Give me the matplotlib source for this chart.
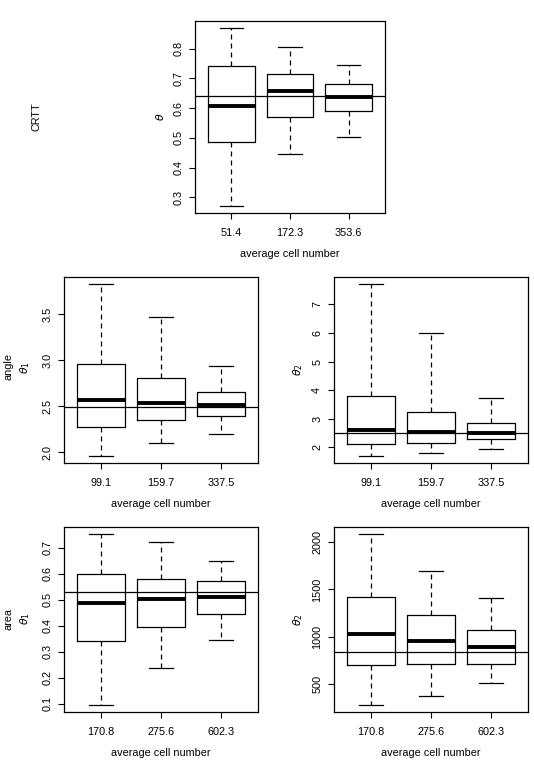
import matplotlib
matplotlib.use('Agg')
import matplotlib.pyplot as plt

plt.rcParams['font.family'] = ['Liberation Sans', 'DejaVu Sans']
plt.rcParams['font.size'] = 7.8

# CRTT
crtt_labels = ['51.4', '172.3', '353.6']
crtt_lo = [0.271, 0.445, 0.502]
crtt_q1 = [0.487, 0.571, 0.591]
crtt_med = [0.606, 0.656, 0.638]
crtt_q3 = [0.741, 0.715, 0.682]
crtt_hi = [0.869, 0.804, 0.746]
crtt_ref = 0.642

# angle, theta1
ang1_labels = ['99.1', '159.7', '337.5']
ang1_lo = [1.96, 2.098, 2.204]
ang1_q1 = [2.274, 2.35, 2.394]
ang1_med = [2.572, 2.539, 2.513]
ang1_q3 = [2.965, 2.812, 2.652]
ang1_hi = [3.831, 3.467, 2.943]
ang1_ref = 2.495

# angle, theta2
ang2_labels = ['99.1', '159.7', '337.5']
ang2_lo = [1.695, 1.81, 1.93]
ang2_q1 = [2.116, 2.17, 2.28]
ang2_med = [2.61, 2.53, 2.52]
ang2_q3 = [3.78, 3.25, 2.84]
ang2_hi = [7.713, 5.99, 3.73]
ang2_ref = 2.49

# area, theta1
are1_labels = ['170.8', '275.6', '602.3']
are1_lo = [0.095, 0.239, 0.344]
are1_q1 = [0.340, 0.397, 0.445]
are1_med = [0.487, 0.505, 0.511]
are1_q3 = [0.600, 0.581, 0.571]
are1_hi = [0.754, 0.723, 0.649]
are1_ref = 0.532

# area, theta2
are2_labels = ['170.8', '275.6', '602.3']
are2_lo = [278, 373, 507]
are2_q1 = [697, 718, 711]
are2_med = [1035, 961, 891]
are2_q3 = [1419, 1229, 1074]
are2_hi = [2088, 1697, 1412]
are2_ref = 838

W, H = 534, 765
fig = plt.figure(figsize=(W / 100, H / 100), dpi=100)


def box_panel(px, labels, lo, q1, med, q3, hi, ref, yticks, fmt, ylab=None):
    x0, y0, x1, y1 = px
    ax = fig.add_axes([x0 / W, 1 - y1 / H, (x1 - x0) / W, (y1 - y0) / H])
    stats = []
    for i in range(len(labels)):
        stats.append(dict(whislo=lo[i], q1=q1[i], med=med[i], q3=q3[i],
                          whishi=hi[i], fliers=[]))
    ax.bxp(stats, positions=[1, 2, 3], widths=0.8, capwidths=0.4,
           showfliers=False,
           boxprops=dict(color='black', linewidth=0.9),
           medianprops=dict(color='black', linewidth=2.8, solid_capstyle='butt'),
           whiskerprops=dict(color='black', linewidth=0.9, linestyle=(0, (4, 3.2))),
           capprops=dict(color='black', linewidth=0.9))
    ax.axhline(ref, color='black', linewidth=0.9)
    ymin, ymax = min(lo), max(hi)
    pad = 0.04 * (ymax - ymin)
    ax.set_ylim(ymin - pad, ymax + pad)
    ax.set_xlim(0.38, 3.62)
    ax.set_xticks([1, 2, 3])
    ax.set_xticklabels(labels)
    ax.set_yticks(yticks)
    ax.set_yticklabels([fmt % v for v in yticks], rotation=90, va='center')
    ax.tick_params(direction='out', length=4.5, width=0.8, color='black')
    ax.tick_params(axis='x', pad=6.5)
    ax.tick_params(axis='y', pad=4)
    for s in ax.spines.values():
        s.set_linewidth(0.9)
    ax.set_xlabel('average cell number', labelpad=7.5)
    if ylab is not None:
        ax.set_ylabel(ylab, labelpad=5)
    return ax


box_panel((195, 21, 385, 213), crtt_labels, crtt_lo, crtt_q1, crtt_med,
          crtt_q3, crtt_hi, crtt_ref, [0.3, 0.4, 0.5, 0.6, 0.7, 0.8], '%.1f',
          r'$\theta$')
box_panel((64, 277, 258, 463), ang1_labels, ang1_lo, ang1_q1, ang1_med,
          ang1_q3, ang1_hi, ang1_ref, [2.0, 2.5, 3.0, 3.5], '%.1f')
box_panel((334, 277, 528, 463), ang2_labels, ang2_lo, ang2_q1, ang2_med,
          ang2_q3, ang2_hi, ang2_ref, [2, 3, 4, 5, 6, 7], '%d',
          r'$\theta_2$')
box_panel((64, 527, 258, 712), are1_labels, are1_lo, are1_q1, are1_med,
          are1_q3, are1_hi, are1_ref, [0.1, 0.2, 0.3, 0.4, 0.5, 0.6, 0.7], '%.1f')
box_panel((334, 527, 528, 712), are2_labels, are2_lo, are2_q1, are2_med,
          are2_q3, are2_hi, are2_ref, [500, 1000, 1500, 2000], '%d',
          r'$\theta_2$')

# row labels
fig.text(36 / W, 1 - 117 / H, 'CRTT', rotation=90, ha='center', va='center')
fig.text(9 / W, 1 - 366 / H, 'angle', rotation=90, ha='center', va='center')
fig.text(25 / W, 1 - 368 / H, r'$\theta_1$', rotation=90, ha='center', va='center')
fig.text(9 / W, 1 - 619 / H, 'area', rotation=90, ha='center', va='center')
fig.text(25 / W, 1 - 619 / H, r'$\theta_1$', rotation=90, ha='center', va='center')

fig.savefig('out.png', dpi=100)
